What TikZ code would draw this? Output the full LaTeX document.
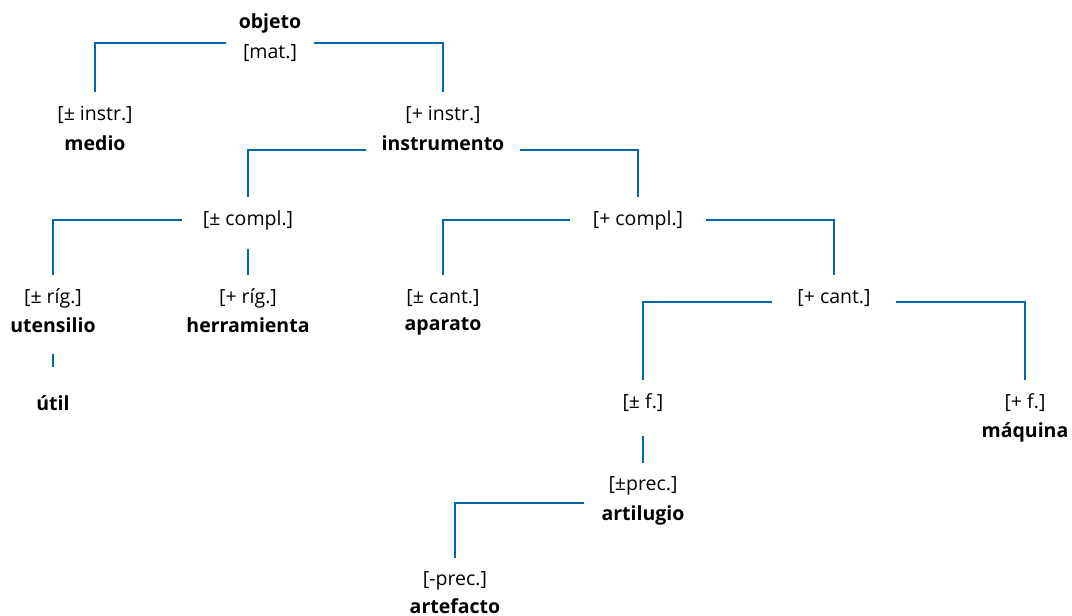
\documentclass[tikz,border=0pt]{standalone}
\usepackage{fontspec}
\setmainfont{Open Sans}
\usetikzlibrary{positioning}
\definecolor{linkblue}{RGB}{0,104,170}

\begin{document}
\begin{tikzpicture}[x=1pt,y=-1pt,
    feat/.style={font=\fontsize{19.5}{24}\selectfont, inner sep=0pt, minimum height=46pt},
    term/.style={font=\fontsize{19.5}{24}\selectfont\bfseries, inner sep=0pt, minimum height=58pt},
    link/.style={draw=linkblue, line width=2.6pt}]
  \useasboundingbox (0,0) rectangle (1072,616);
  % top level
  \node[term] (objeto) at (270,23) {objeto};
  \node[feat, minimum width=88pt] (mat) at (270,53) {[mat.]};
  \node[feat] (instrL) at (95,115) {[± instr.]};
  \node[term] (medio) at (95,143) {medio};
  \node[feat] (instrR) at (443,115) {[+ instr.]};
  \node[term, minimum width=153pt] (instrumento) at (443,143) {instrumento};
  % complejidad
  \node[feat, minimum width=132pt] (complL) at (248,220) {[± compl.]};
  \node[feat, minimum width=135pt] (complR) at (638,220) {[+ compl.]};
  \node[feat] (rigL) at (53,298) {[± ríg.]};
  \node[term] (utensilio) at (53,325) {utensilio};
  \node[term] (util) at (53,403) {útil};
  \node[feat] (rigR) at (248,298) {[+ ríg.]};
  \node[term] (herramienta) at (248,325) {herramienta};
  \node[feat] (cantL) at (443,298) {[± cant.]};
  \node[term] (aparato) at (443,326) {aparato};
  \node[feat, minimum width=123pt] (cantR) at (834,298) {[+ cant.]};
  % fuerza y precision
  \node[feat] (fL) at (643,403) {[± f.]};
  \node[feat] (fR) at (1025,403) {[+ f.]};
  \node[term] (maquina) at (1025,432) {máquina};
  \node[feat] (precL) at (643,486) {[±prec.]};
  \node[term, minimum width=118pt] (artilugio) at (643,515) {artilugio};
  \node[feat] (precM) at (455,581) {[-prec.]};
  \node[term] (artefacto) at (455,606) {artefacto};

  \draw[link] ([yshift=10pt]mat.west) -| (instrL.north);
  \draw[link] ([yshift=10pt]mat.east) -| (instrR.north);
  \draw[link] ([yshift=-7pt]instrumento.west) -| (complL.north);
  \draw[link] ([yshift=-7pt]instrumento.east) -| (complR.north);
  \draw[link] (complL.west) -| (rigL.north);
  \draw[link, shorten <=6pt] (complL.south) -- (rigR.north);
  \draw[link, shorten >=7pt] (utensilio.south) -- (util.north);
  \draw[link] (complR.west) -| (cantL.north);
  \draw[link] (complR.east) -| (cantR.north);
  \draw[link] ([yshift=-4pt]cantR.west) -| (fL.north);
  \draw[link] ([yshift=-4pt]cantR.east) -| (fR.north);
  \draw[link, shorten <=10pt] (fL.south) -- (precL.north);
  \draw[link] ([yshift=12pt]artilugio.west) -| (precM.north);
\end{tikzpicture}
\end{document}
